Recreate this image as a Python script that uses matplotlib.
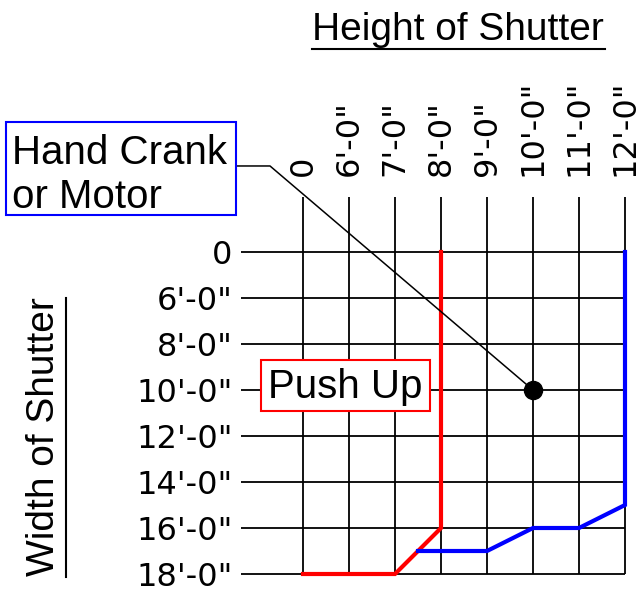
import matplotlib.pyplot as plt
from matplotlib.patches import Rectangle
from matplotlib.lines import Line2D

# shutter size chart: push up vs hand crank / motor
heights = ["0", "6'-0\"", "7'-0\"", "8'-0\"", "9'-0\"", "10'-0\"", "11'-0\"", "12'-0\""]
widths = ["0", "6'-0\"", "8'-0\"", "10'-0\"", "12'-0\"", "14'-0\"", "16'-0\"", "18'-0\""]

# limits in grid steps (column index = height, row index = width)
push_up_x = [3, 3, 2, 0]
push_up_y = [0, 6, 7, 7]
crank_x = [7, 7, 6, 5, 4, 2.5]
crank_y = [0, 5.5, 6, 6, 6.5, 6.5]
dot_x, dot_y = 5, 3

W, H = 641, 592
fig = plt.figure(figsize=(W / 100, H / 100), dpi=100)
fig.patch.set_facecolor("white")

x0, x1 = -1.35, 7.2
y0, y1 = -1.2, 7.2
px = lambda c: 303 + 46 * c
py = lambda r: 252 + 46 * r
ax = fig.add_axes([px(x0) / W, 1 - py(y1) / H, (px(x1) - px(x0)) / W, (py(y1) - py(y0)) / H])
ax.set_xlim(x0, x1)
ax.set_ylim(y1, y0)
for s in ax.spines.values():
    s.set_visible(False)

n = len(heights)
ax.vlines(range(n), y0, n - 1, color="k", lw=1.3, zorder=1)
ax.hlines(range(len(widths)), x0, n - 1, color="k", lw=1.3, zorder=1)

ax.plot(push_up_x, push_up_y, color="#ff0000", lw=3, zorder=4, solid_joinstyle="miter")
ax.plot(crank_x, crank_y, color="#0000ff", lw=3, zorder=4, solid_joinstyle="miter")

ax.xaxis.tick_top()
ax.set_xticks(range(n))
ax.set_xticklabels(heights, rotation=90, fontsize=23, family="DejaVu Sans")
ax.set_yticks(range(len(widths)))
ax.set_yticklabels(widths, fontsize=23, family="DejaVu Sans")
ax.tick_params(axis="x", length=0, pad=15)
ax.tick_params(axis="y", length=0, pad=6)

# Push Up box
ax.add_patch(Rectangle((-0.913, 2.35), 3.673, 1.11, facecolor="white", edgecolor="#ff0000", lw=1.5, zorder=3))
ax.text(0.92, 2.93, "Push Up", fontsize=29, family="Liberation Sans", ha="center", va="center", zorder=5)

# hand crank leader + dot
ax.plot([-1.435, -0.717, dot_x], [-1.87, -1.87, dot_y], color="k", lw=1.1, zorder=5, clip_on=False)
ax.plot([dot_x], [dot_y], "o", color="k", ms=13, zorder=6)

fig.add_artist(Rectangle((6 / W, 1 - 215 / H), 230 / W, 93 / H, transform=fig.transFigure,
                         facecolor="white", edgecolor="#0000ff", lw=1.5, zorder=1))
fig.text(12 / W, 1 - 208 / H, "Hand Crank\nor Motor", fontsize=29, family="Liberation Sans",
         ha="left", va="baseline", linespacing=1.2, zorder=2)

# axis titles with underline
fig.text(458 / W, 1 - 40 / H, "Height of Shutter", fontsize=28, family="Liberation Sans",
         ha="center", va="baseline")
fig.add_artist(Line2D([312 / W, 605 / W], [1 - 49 / H] * 2, color="k", lw=1.5))
fig.text(44 / W, 1 - 437 / H, "Width of Shutter", fontsize=28, family="Liberation Sans",
         rotation=90, ha="center", va="center")
fig.add_artist(Line2D([66 / W] * 2, [1 - 298 / H, 1 - 577 / H], color="k", lw=1.5))

fig.savefig("out.png", dpi=100)
